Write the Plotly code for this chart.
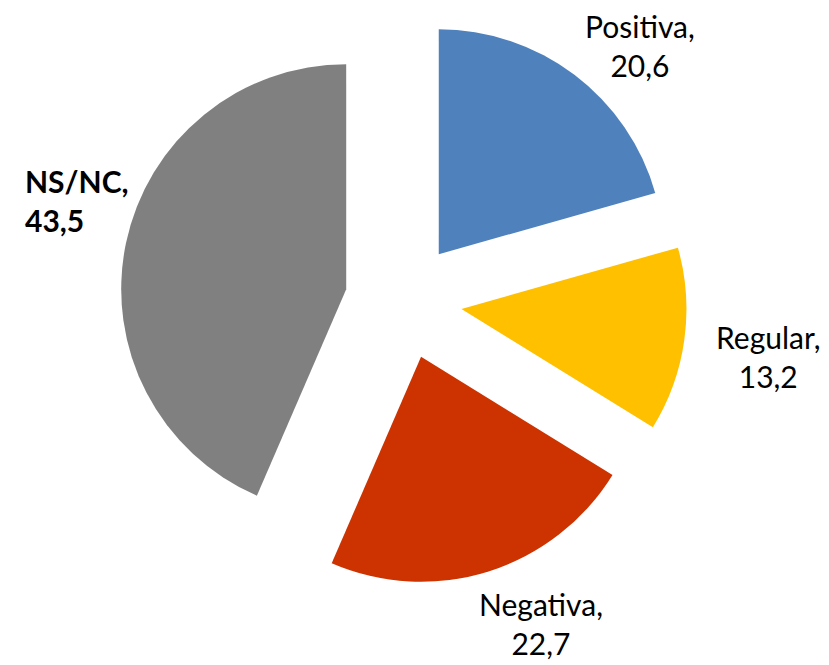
import plotly.graph_objects as go

labels = ["Positiva", "Regular", "Negativa", "NS/NC"]
values = [20.6, 13.2, 22.7, 43.5]
colors = ["#4F81BD", "#FFC000", "#CC3300", "#808080"]

W, H = 829, 665

fig = go.Figure(go.Pie(
    labels=labels,
    values=values,
    sort=False,
    direction="clockwise",
    rotation=0,
    pull=[0.26] * 4,
    marker=dict(colors=colors, line=dict(width=0)),
    textinfo="none",
    hoverinfo="label+value",
    showlegend=False,
    domain=dict(x=[112 / W, 679 / W], y=[1 - 576.5 / H, 1 - 9.5 / H]),
))

# label positions (pixel centres) and styles
label_pos = [(632, 37, "center"), (760, 348, "center"), (533, 615, "center"), (15, 193, "left")]
bold = [False, False, False, True]

annotations = []
for lab, val, (px, py, anchor), b in zip(labels, values, label_pos, bold):
    num = str(val).replace('.', ',')
    txt = f"{lab},<br>{num}"
    if b:
        txt = f"<b>{lab},</b><br><b>{num}</b>"
    annotations.append(dict(
        x=px / W, y=1 - py / H, xref="paper", yref="paper",
        xanchor=anchor, yanchor="middle", align=anchor,
        text=txt, showarrow=False,
        font=dict(family="Lato, Carlito, sans-serif", size=30, color="#000000"),
    ))

fig.update_layout(
    width=W, height=H,
    margin=dict(l=0, r=0, t=0, b=0),
    paper_bgcolor="white",
    plot_bgcolor="white",
    annotations=annotations,
)

fig.write_html("out.html")
